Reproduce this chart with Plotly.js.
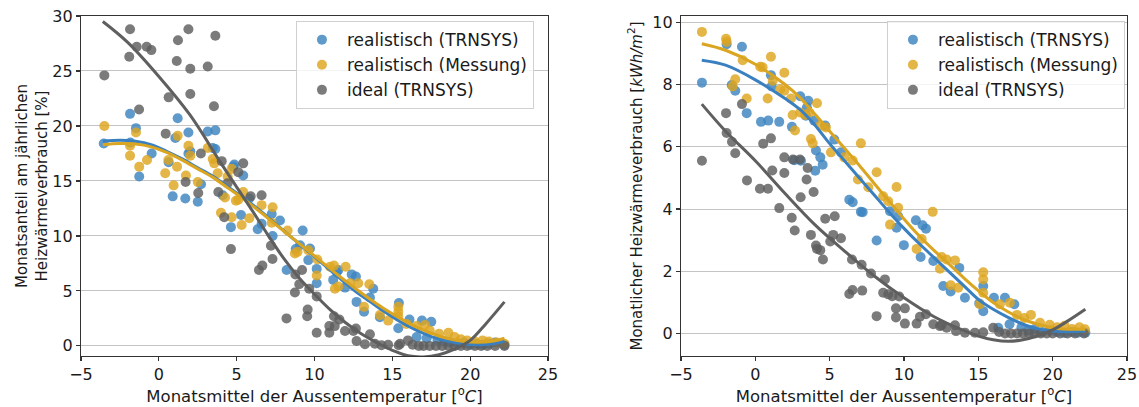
<!DOCTYPE html>
<html>
<head>
<meta charset="utf-8">
<script src="https://cdn.plot.ly/plotly-3.0.1.min.js"></script>
<style>html,body{margin:0;padding:0;background:#fff;}#chart{width:1139px;height:407px;}</style>
</head>
<body>
<div id="chart"></div>
<script>
// ---------- Left panel: share of annual heat consumption [%] ----------
const leftBlueX = [-3.54,-1.85,-1.83,-1.47,-1.26,-0.46,0.63,0.89,1.06,1.21,1.7,1.9,1.9,2.02,2.5,2.71,3.14,3.46,3.63,3.63,4.1,4.63,4.78,4.85,5.28,5.42,5.81,6.35,6.6,7.25,7.31,7.78,8.21,8.79,9.07,9.24,9.6,9.71,10.14,10.14,11.2,11.42,11.53,11.96,12.39,12.66,12.7,13.18,13.56,13.77,14.2,15.42,15.38,16.1,16.56,16.9,17.2,17.5,17.9,18.3,18.7,19.2,19.6,20.0,20.4,20.8,21.2,21.6,22.2];
const leftBlueY = [18.4,21.1,18.5,19.8,15.4,17.5,16.7,13.6,18.9,20.7,13.4,19.4,17.5,17.7,13.1,14.7,19.5,18.0,19.6,17.9,13.7,10.8,16.3,16.5,11.9,15.5,13.4,10.6,11.1,12.0,10.0,11.4,6.9,8.8,9.15,10.5,7.8,8.85,7.0,5.7,6.0,6.7,6.9,5.3,6.5,6.3,4.0,3.1,4.4,5.2,2.6,3.9,1.6,2.4,0.8,2.3,0.7,2.2,0.5,0.4,0.3,0.2,0.3,0.1,0.2,0.1,0.2,0.3,0.1];

const leftYellowX = [-3.5,-1.85,-1.85,-1.47,-1.26,-0.76,0.41,0.61,0.95,1.17,1.21,1.74,1.9,2.02,2.5,3.14,3.46,3.56,3.78,3.99,4.25,4.42,4.68,4.68,4.95,5.1,5.32,5.42,5.81,6.6,7.25,7.31,8.27,8.74,8.91,9.6,10.14,10.18,10.99,11.25,11.31,11.53,12.0,12.28,12.81,13.18,13.52,14.2,14.73,15.38,15.38,15.38,15.9,16.56,17.1,17.4,18.0,18.6,19.0,19.4,19.8,20.3,20.8,21.2,21.7,22.2];
const leftYellowY = [20.0,18.2,17.3,19.4,16.3,16.9,15.7,16.9,14.6,16.3,19.1,15.5,18.2,17.3,14.9,18.0,17.0,16.6,15.7,12.1,13.5,15.4,16.1,11.7,13.2,13.3,11.0,14.0,11.6,12.8,11.2,12.6,10.5,8.4,8.55,8.7,6.4,7.85,7.2,7.3,5.2,5.4,7.2,5.7,5.7,3.55,5.6,2.8,2.3,3.55,3.1,2.7,2.0,1.8,1.9,1.4,1.1,1.2,0.8,0.6,0.5,0.4,0.5,0.4,0.3,0.2];

const leftGrayX = [-3.5,-1.9,-1.85,-1.42,-1.27,-0.78,-0.48,0.44,0.63,1.15,1.23,1.72,1.9,2.02,2.02,2.53,2.7,3.14,3.54,3.63,3.82,4.04,4.2,4.42,4.63,5.1,5.42,5.9,6.43,6.6,6.65,7.2,7.3,8.2,8.74,8.77,9.02,9.2,9.53,9.56,9.66,10.14,10.14,10.95,10.95,11.25,11.3,11.6,11.96,12.5,12.66,12.7,13.24,13.56,13.88,14.3,14.73,15.4,15.5,16.0,16.3,16.7,17.0,17.4,17.8,18.2,18.6,19.0,19.4,19.8,20.3,20.7,21.1,21.6,22.2];
const leftGrayY = [24.6,26.3,28.8,27.2,21.5,27.2,26.9,19.3,22.6,25.9,27.8,14.9,28.8,25.2,22.9,13.9,17.5,25.4,21.8,28.2,14.0,16.8,11.7,14.8,8.8,15.8,16.6,13.6,6.9,13.7,7.3,9.1,7.9,2.5,4.85,6.5,5.6,6.9,2.7,3.3,5.2,4.5,1.2,1.8,1.2,2.7,1.8,2.4,1.36,1.36,1.58,0.45,0.15,1.06,0.2,0.06,0.1,0.05,0.2,0.5,0.1,0,0,0,0,0,0,0,0,0,0,0,0,0,0];

// fitted curves
const leftFitX = [-3.6,-2.5,-1.5,-0.5,0.5,1.5,2.5,3.5,4.5,5.5,6.5,7.5,8.5,9.5,10.5,11.5,12.5,13.5,14.5,15.5,16.5,17.5,18.5,19.5,20.5,21.5,22.2];
const leftFitBlue = [18.6,18.7,18.6,18.3,17.7,17.0,16.2,15.4,14.4,13.4,12.3,11.1,9.9,8.7,7.5,6.3,5.1,4.1,3.1,2.2,1.45,0.85,0.45,0.2,0.1,0.2,0.45];
const leftFitYellow = [18.3,18.4,18.35,18.1,17.6,16.9,16.1,15.3,14.3,13.3,12.2,11.05,9.9,8.75,7.6,6.45,5.35,4.3,3.35,2.5,1.75,1.15,0.7,0.42,0.32,0.45,0.7];
const leftFitGrayX = [-3.6,-2,0,2,4,6,7,8,9,10,11,12,13,14,15,16,17,18,19,20,21,22.2];
const leftFitGray = [29.5,27.6,24.5,21.0,16.6,12.3,10.1,8.0,6.2,4.7,3.3,2.1,1.1,0.3,-0.4,-0.9,-1.0,-0.8,-0.3,0.5,2.0,4.0];

// ---------- Right panel: monthly heat consumption [kWh/m2] ----------
const rightBlueX = [-3.59,-1.93,-1.59,-1.35,-0.9,-0.58,0.38,0.87,1.05,1.1,1.61,2.46,2.62,3.02,3.07,3.4,3.47,3.56,3.96,4.03,4.08,4.37,4.53,4.7,5.31,5.76,6.32,6.55,7.1,7.22,8.16,9.06,9.5,9.61,9.99,10.8,11.12,11.25,11.48,11.97,12.64,13.14,13.72,14.1,15.06,15.33,15.33,16.05,16.34,16.79,17.1,17.42,17.9,18.4,18.8,19.3,19.8,20.3,20.8,21.3,21.7,22.2];
const rightBlueY = [8.06,9.29,7.98,7.8,9.21,7.08,6.8,6.84,8.3,7.94,6.8,6.64,5.57,7.62,5.55,7.0,7.26,7.48,6.84,5.23,5.88,5.66,5.42,6.68,6.23,5.82,4.3,4.22,3.91,3.9,2.99,3.93,3.4,3.77,2.84,3.64,2.46,3.48,3.37,2.33,1.53,1.35,2.11,1.15,0.97,1.53,0.72,1.15,0.19,1.15,0.3,0.94,0.2,0.1,0.15,0.05,0.1,0.05,0.02,0.05,0.03,0.03];

const rightYellowX = [-3.59,-1.97,-1.93,-1.52,-1.35,-0.85,-0.58,0.33,0.49,0.83,1.05,1.17,1.68,1.95,1.95,2.4,2.51,2.67,3.02,3.34,3.63,3.74,3.86,4.15,4.37,4.75,5.09,5.98,6.55,6.9,7.1,7.6,8.16,8.6,8.94,9.06,9.5,9.61,10.85,11.19,11.93,12.42,12.53,12.87,13.14,13.43,13.65,15.1,15.33,15.33,15.33,16.45,17.12,17.6,18.1,18.54,19.15,19.8,20.3,20.8,21.3,21.8,22.17];
const rightYellowY = [9.69,9.47,9.37,7.94,8.17,8.78,7.55,8.57,8.55,7.55,8.89,8.12,7.85,8.38,7.8,7.55,7.02,6.52,7.1,7.02,7.1,6.25,6.11,7.4,6.68,6.62,5.82,5.66,5.56,4.95,6.11,4.7,5.18,4.41,4.25,3.5,4.71,4.04,2.72,3.04,3.91,2.08,2.46,2.38,1.55,2.35,1.47,0.94,1.97,1.74,1.31,0.94,0.99,0.6,0.5,0.6,0.35,0.28,0.2,0.25,0.15,0.2,0.14];

const rightGrayX = [-3.59,-1.97,-1.93,-1.57,-1.35,-0.9,-0.56,0.31,0.53,0.85,1.05,1.14,1.61,1.95,1.95,2.45,2.53,2.65,3.0,3.05,3.45,3.52,3.74,3.92,4.08,4.15,4.37,4.55,4.7,5.04,5.24,5.34,5.76,6.32,6.5,6.54,7.15,7.19,7.78,8.16,8.6,8.72,8.94,9.21,9.46,9.46,9.68,10.06,10.06,10.85,11.07,11.48,11.97,12.42,12.53,12.87,13.43,13.5,14.1,14.77,15.33,16.0,16.4,16.8,17.2,17.6,18.0,18.4,18.8,19.2,19.6,20.0,20.5,21.0,21.5,22.1];
const rightGrayY = [5.55,7.08,6.44,6.16,5.79,7.37,4.92,4.65,6.1,4.65,6.27,5.24,4.03,5.66,5.16,3.72,5.59,3.31,5.59,4.38,4.95,5.32,3.17,4.55,2.83,2.72,2.68,2.38,3.69,2.96,3.17,3.77,3.06,1.27,2.38,1.40,2.21,1.38,1.93,0.56,1.31,1.74,1.26,1.2,0.81,0.52,1.19,0.81,0.32,0.32,0.54,0.62,0.3,0.24,0.27,0.19,0.27,0.08,0.03,0.03,0.04,0.19,0.05,0,0,0,0,0,0,0,0,0,0,0,0,0];

const rightFitX = [-3.6,-2,0,2,3,4,5,6,7,8,9,10,11,12,13,14,15,16,17,18,19,20,21,22.2];
const rightFitBlue = [8.78,8.62,8.15,7.55,7.2,6.7,6.1,5.55,5.0,4.45,3.9,3.38,2.9,2.45,2.0,1.55,1.1,0.78,0.52,0.3,0.15,0.08,0.06,0.08];
const rightFitYellow = [9.31,9.1,8.65,8.0,7.58,7.05,6.5,5.95,5.4,4.82,4.25,3.68,3.15,2.68,2.25,1.8,1.38,1.0,0.7,0.46,0.3,0.19,0.14,0.14];
const rightFitGrayX = [-3.6,-2,0,2,4,6,8,10,12,14,15,16,17,18,19,20,21,22.2];
const rightFitGray = [7.37,6.5,5.55,4.5,3.5,2.65,1.85,1.15,0.55,0.1,-0.08,-0.2,-0.25,-0.2,-0.07,0.12,0.4,0.78];

const seriesNames = ['realistisch (TRNSYS)', 'realistisch (Messung)', 'ideal (TRNSYS)'];

// ---------- styling ----------
const cBlue = '#3c84c0', cYellow = '#dea51f', cGray = '#5e5e5e';
const lBlue = '#3a80c0', lYellow = '#daa520', lGray = '#5f5f5f';
const FONT = 'DejaVu Sans, Verdana, sans-serif';
const TXT = '#1a1a1a';

function pts(x, y, name, color, xa, ya, leg) {
  return {type:'scatter', mode:'markers', x:x, y:y, name:name, xaxis:xa, yaxis:ya, legend:leg,
          marker:{size:10, color:color, opacity:0.82, line:{width:0}}, cliponaxis:true, hoverinfo:'x+y'};
}
function fit(x, y, color, xa, ya) {
  return {type:'scatter', mode:'lines', x:x, y:y, xaxis:xa, yaxis:ya, showlegend:false,
          line:{color:color, width:3, shape:'spline', smoothing:1}, hoverinfo:'skip'};
}

const data = [
  pts(leftBlueX, leftBlueY, seriesNames[0], cBlue, 'x', 'y', 'legend'),
  pts(leftYellowX, leftYellowY, seriesNames[1], cYellow, 'x', 'y', 'legend'),
  pts(leftGrayX, leftGrayY, seriesNames[2], cGray, 'x', 'y', 'legend'),
  fit(leftFitX, leftFitBlue, lBlue, 'x', 'y'),
  fit(leftFitX, leftFitYellow, lYellow, 'x', 'y'),
  fit(leftFitGrayX, leftFitGray, lGray, 'x', 'y'),
  pts(rightBlueX, rightBlueY, seriesNames[0], cBlue, 'x2', 'y2', 'legend2'),
  pts(rightYellowX, rightYellowY, seriesNames[1], cYellow, 'x2', 'y2', 'legend2'),
  pts(rightGrayX, rightGrayY, seriesNames[2], cGray, 'x2', 'y2', 'legend2'),
  fit(rightFitX, rightFitBlue, lBlue, 'x2', 'y2'),
  fit(rightFitX, rightFitYellow, lYellow, 'x2', 'y2'),
  fit(rightFitGrayX, rightFitGray, lGray, 'x2', 'y2')
];

const axisCommon = {
  showline:true, mirror:true, linecolor:'#333', linewidth:1.2,
  ticks:'outside', ticklen:4, tickwidth:1.2, tickcolor:'#333',
  tickfont:{family:FONT, size:16, color:TXT},
  zeroline:false
};
const xTitle = {text:'Monatsmittel der Aussentemperatur [<sup>o</sup><i>C</i>]', font:{family:FONT, size:16.5, color:TXT}, standoff:1};

const legendCommon = {
  bgcolor:'rgba(255,255,255,0.8)', bordercolor:'#d0d0d0', borderwidth:1,
  font:{family:FONT, size:17, color:TXT}, itemwidth:40, xanchor:'left', yanchor:'top',
  tracegroupgap:0, itemclick:false
};

const layout = {
  width:1139, height:407,
  margin:{l:81, r:12, t:16, b:51},
  paper_bgcolor:'#fff', plot_bgcolor:'#fff',
  font:{family:FONT, size:16, color:TXT},
  xaxis: Object.assign({}, axisCommon, {domain:[0, 0.4465], range:[-5,25], dtick:5, showgrid:false, anchor:'y', title:xTitle}),
  yaxis: Object.assign({}, axisCommon, {domain:[0,1], range:[-0.92,30], dtick:5, showgrid:true, gridcolor:'#c4c4c4', gridwidth:1, anchor:'x',
    title:{text:'Monatsanteil am jährlichen<br>Heizwärmeverbrauch [%]', font:{family:FONT, size:15, color:TXT}, standoff:1}}),
  xaxis2: Object.assign({}, axisCommon, {domain:[0.5736, 1], range:[-5,25], dtick:5, showgrid:false, anchor:'y2', title:xTitle}),
  yaxis2: Object.assign({}, axisCommon, {domain:[0,1], range:[-0.72,10.2], dtick:2, showgrid:true, gridcolor:'#c4c4c4', gridwidth:1, anchor:'x2',
    title:{text:'Monatlicher Heizwärmeverbrauch [<i>kWh/m</i><sup>2</sup>]', font:{family:FONT, size:15, color:TXT}, standoff:6}}),
  legend: Object.assign({}, legendCommon, {x:0.2055, y:0.985}),
  legend2: Object.assign({}, legendCommon, {x:0.7705, y:0.985}),
  showlegend:true
};

Plotly.newPlot('chart', data, layout, {staticPlot:true, displayModeBar:false});
</script>
</body>
</html>
